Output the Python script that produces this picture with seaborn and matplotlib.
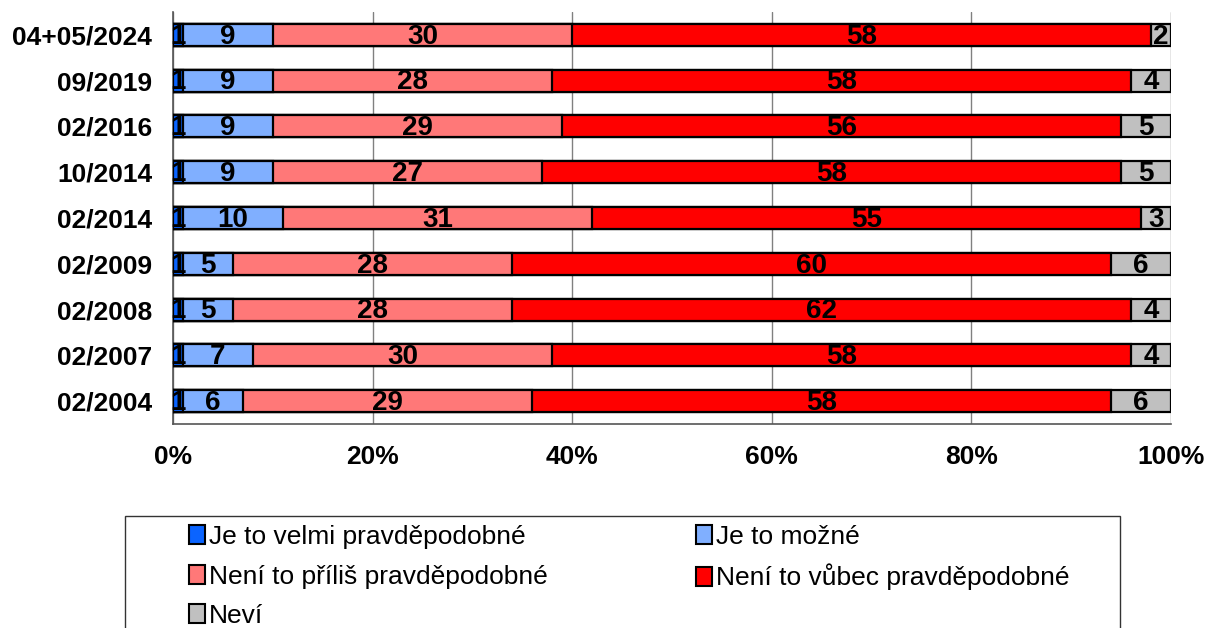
import matplotlib
matplotlib.use('Agg')
import matplotlib.pyplot as plt
import seaborn as sns
import numpy as np
import pandas as pd
from matplotlib.patches import Patch, Rectangle
from matplotlib.ticker import FuncFormatter, MultipleLocator, FixedLocator

# survey waves, top to bottom
waves = ['04+05/2024', '09/2019', '02/2016', '10/2014', '02/2014',
         '02/2009', '02/2008', '02/2007', '02/2004']

# answer shares (%)
velmiPravdepodobne = [1, 1, 1, 1, 1, 1, 1, 1, 1]
mozne = [9, 9, 9, 9, 10, 5, 5, 7, 6]
priliPravdepodobne = [30, 28, 29, 27, 31, 28, 28, 30, 29]
vubecPravdepodobne = [58, 58, 56, 58, 55, 60, 62, 58, 58]
nevi = [2, 4, 5, 5, 3, 6, 4, 4, 6]

answers = ['Je to velmi pravděpodobné', 'Je to možné',
           'Není to příliš pravděpodobné', 'Není to vůbec pravděpodobné', 'Neví']
answerColors = ['#0A64FF', '#80AFFF', '#FF7878', '#FF0000', '#C0C0C0']

sns.set_style('white')
plt.rcParams['font.family'] = ['Liberation Sans', 'DejaVu Sans']

data = pd.DataFrame({'wave': waves})
series = [velmiPravdepodobne, mozne, priliPravdepodobne, vubecPravdepodobne, nevi]
cumulative = np.cumsum(np.array(series, dtype=float), axis=0)

fig = plt.figure(figsize=(12.09, 6.28), dpi=100)
ax = fig.add_axes([173 / 1209, 1 - 424 / 628, 998 / 1209, 412 / 628])

# stacked bars: draw cumulative totals from the outermost segment inwards
for i in range(len(series) - 1, -1, -1):
    data['total'] = cumulative[i]
    sns.barplot(data=data, x='total', y='wave', orient='h', color=answerColors[i],
                saturation=1, width=0.48, edgecolor='black', linewidth=1.6,
                ax=ax, zorder=3)

# segment labels
for i, values in enumerate(series):
    starts = cumulative[i] - np.array(values)
    for j, v in enumerate(values):
        ax.text(starts[j] + v / 2, j + 0.04, str(v), ha='center', va='center',
                fontsize=20, fontweight='bold', color='black', zorder=5)

ax.set_xlim(0, 100)
ax.set_ylim(len(waves) - 0.5, -0.5)
ax.xaxis.set_major_locator(MultipleLocator(20))
ax.xaxis.set_major_formatter(FuncFormatter(lambda v, p: f'{int(v)}%'))
ax.yaxis.set_minor_locator(FixedLocator(np.arange(-0.5, len(waves), 1)))
ax.grid(axis='x', color='#808080', linewidth=1, zorder=0)
ax.set_axisbelow(True)
ax.set_xlabel('')
ax.set_ylabel('')

for side in ['top', 'right']:
    ax.spines[side].set_visible(False)
for side in ['left', 'bottom']:
    ax.spines[side].set_color('#555555')
    ax.spines[side].set_linewidth(1.2)

ax.tick_params(axis='y', which='major', length=0, pad=15, labelsize=19, labelcolor='black')
ax.tick_params(axis='y', which='minor', length=8, width=1.2, color='#555555', direction='out')
ax.tick_params(axis='x', which='major', length=8, width=1.2, color='#555555',
               direction='out', pad=7, labelsize=19, labelcolor='black')
for label in ax.get_xticklabels() + ax.get_yticklabels():
    label.set_fontweight('bold')

# legend frame, entries laid out row by row in two columns
fig.patches.append(Rectangle((125 / 1209, -0.05), 995 / 1209, 0.05 + 112 / 628,
                             transform=fig.transFigure, fill=False,
                             edgecolor='#333333', linewidth=1))
colX = [189 / 1209, 696 / 1209]
rowY = [1 - 537 / 628, 1 - 577 / 628, 1 - 616 / 628]
for k, (name, color) in enumerate(zip(answers, answerColors)):
    handle = Patch(facecolor=color, edgecolor='black', linewidth=1.5)
    leg = fig.legend([handle], [name], loc='center left',
                     bbox_to_anchor=(colX[k % 2], rowY[k // 2]),
                     frameon=False, fontsize=19, handlelength=0.6, handleheight=0.72,
                     handletextpad=0.15, borderpad=0, borderaxespad=0,
                     labelcolor='black')

fig.savefig('out.png', dpi=100)
